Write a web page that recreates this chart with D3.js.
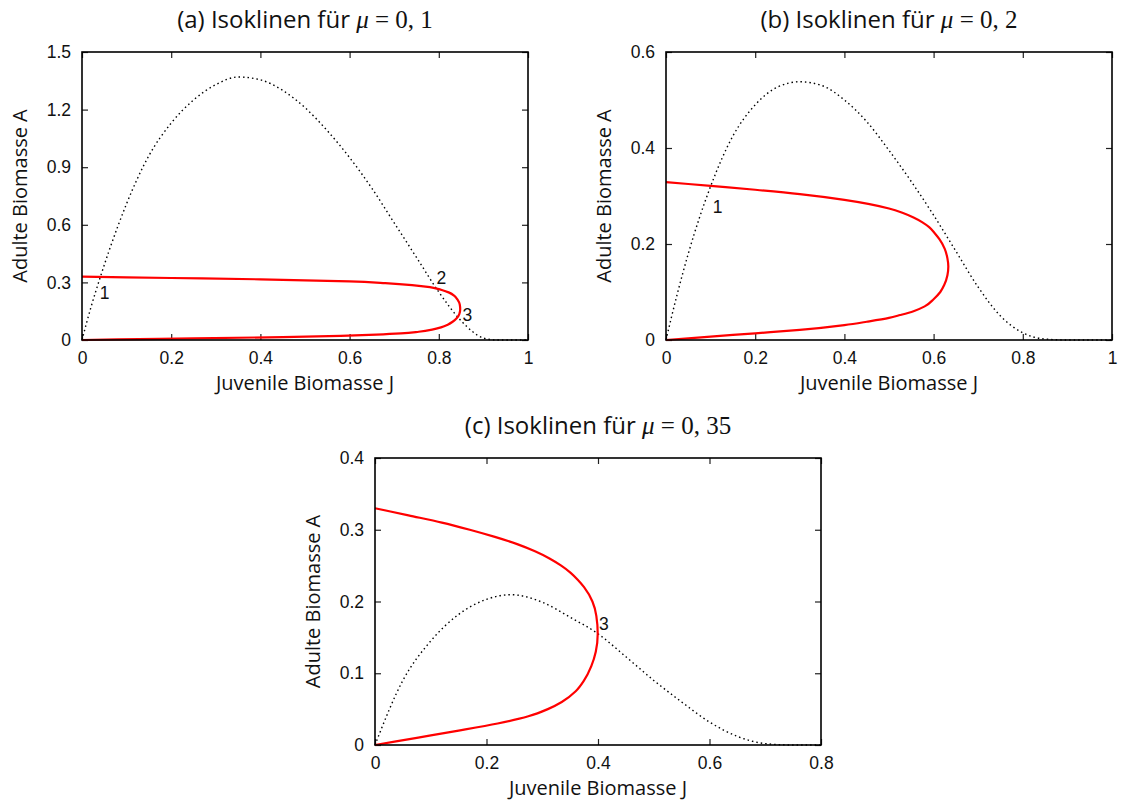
<!DOCTYPE html>
<html>
<head>
<meta charset="utf-8">
<script src="https://cdn.jsdelivr.net/npm/d3@7"></script>
<style>
  body { margin: 0; background: #fff; }
  svg { display: block; }
  .tick text { font-family: "Liberation Sans", Arial, sans-serif; font-size: 17.5px; fill: #111; }
  .axis-title { font-family: "Open Sans", "Noto Sans", sans-serif; font-size: 20px; fill: #111; }
  .title { font-family: "Open Sans", "Noto Sans", sans-serif; font-size: 24px; fill: #111; }
  .math { font-family: "Liberation Serif", "DejaVu Serif", serif; font-size: 25px; }
  .pt { font-family: "Liberation Sans", Arial, sans-serif; font-size: 17.5px; fill: #111; }
</style>
</head>
<body>
<svg id="chart" width="1121" height="802"></svg>
<script>
// ---- data ----
// red isocline is given as J along falling A (top branch -> tip -> bottom branch)

// panel (a), mu = 0,1
const jTicksA = [0, 0.2, 0.4, 0.6, 0.8, 1];
const aTicksA = [0, 0.3, 0.6, 0.9, 1.2, 1.5];
const redAA = [0.33, 0.323, 0.316, 0.305, 0.296, 0.286, 0.275, 0.262, 0.248, 0.23, 0.21, 0.185, 0.16, 0.135, 0.113, 0.095, 0.08, 0.066, 0.054, 0.043, 0.034, 0.028, 0.022, 0.015, 0.008, 0.003, 0];
const redJA = [0, 0.2, 0.4, 0.6, 0.68, 0.74, 0.78, 0.805, 0.822, 0.835, 0.842, 0.847, 0.848, 0.846, 0.84, 0.831, 0.82, 0.805, 0.785, 0.755, 0.715, 0.66, 0.58, 0.45, 0.25, 0.08, 0];
const dotJA = [0, 0.02, 0.04, 0.06, 0.08, 0.1, 0.15, 0.2, 0.25, 0.3, 0.35, 0.4, 0.45, 0.5, 0.55, 0.6, 0.65, 0.7, 0.75, 0.8, 0.85, 0.875, 0.9, 0.93, 1];
const dotAA = [0, 0.17, 0.32, 0.46, 0.59, 0.71, 0.96, 1.13, 1.25, 1.33, 1.37, 1.355, 1.3, 1.21, 1.09, 0.95, 0.79, 0.61, 0.43, 0.25, 0.1, 0.045, 0.01, 0, 0];
const ptLabelsA = ["1", "2", "3"];
const ptJA = [0.04, 0.795, 0.853];
const ptAA = [0.215, 0.29, 0.1];

// panel (b), mu = 0,2
const jTicksB = [0, 0.2, 0.4, 0.6, 0.8, 1];
const aTicksB = [0, 0.2, 0.4, 0.6];
const redAB = [0.329, 0.321, 0.313, 0.304, 0.292, 0.274, 0.265, 0.255, 0.245, 0.235, 0.222, 0.21, 0.19, 0.17, 0.153, 0.135, 0.115, 0.1, 0.085, 0.07, 0.06, 0.052, 0.046, 0.038, 0.031, 0.021, 0.014, 0.007, 0];
const redJB = [0, 0.1, 0.2, 0.3, 0.4, 0.5, 0.53, 0.555, 0.575, 0.59, 0.603, 0.613, 0.625, 0.631, 0.633, 0.631, 0.624, 0.615, 0.6, 0.58, 0.555, 0.525, 0.5, 0.45, 0.4, 0.3, 0.2, 0.1, 0];
const dotJB = [0, 0.025, 0.05, 0.1, 0.15, 0.2, 0.25, 0.3, 0.35, 0.4, 0.45, 0.5, 0.55, 0.6, 0.65, 0.7, 0.75, 0.8, 0.85, 0.9, 1];
const dotAB = [0, 0.095, 0.18, 0.32, 0.425, 0.49, 0.527, 0.538, 0.53, 0.5, 0.455, 0.395, 0.33, 0.26, 0.185, 0.11, 0.05, 0.015, 0.002, 0, 0];
const ptLabelsB = ["1"];
const ptJB = [0.105];
const ptAB = [0.265];

// panel (c), mu = 0,35
const jTicksC = [0, 0.2, 0.4, 0.6, 0.8];
const aTicksC = [0, 0.1, 0.2, 0.3, 0.4];
const redAC = [0.33, 0.32, 0.31, 0.3, 0.29, 0.28, 0.27, 0.26, 0.25, 0.24, 0.23, 0.22, 0.2, 0.18, 0.155, 0.13, 0.11, 0.09, 0.075, 0.06, 0.05, 0.04, 0.03, 0.02, 0.01, 0];
const redJC = [0, 0.06, 0.12, 0.17, 0.215, 0.255, 0.287, 0.313, 0.334, 0.351, 0.364, 0.375, 0.39, 0.397, 0.3995, 0.396, 0.388, 0.375, 0.36, 0.335, 0.31, 0.275, 0.22, 0.15, 0.075, 0];
const dotJC = [0, 0.05, 0.1, 0.15, 0.2, 0.244, 0.3, 0.35, 0.4, 0.45, 0.5, 0.55, 0.6, 0.65, 0.7, 0.75, 0.8];
const dotAC = [0, 0.09, 0.145, 0.182, 0.203, 0.2095, 0.199, 0.178, 0.155, 0.123, 0.09, 0.06, 0.032, 0.012, 0.002, 0, 0];
const ptLabelsC = ["3"];
const ptJC = [0.402];
const ptAC = [0.16];

const svg = d3.select("#chart");

function drawPanel(p) {
  const g = svg.append("g");
  const x = d3.scaleLinear().domain([0, p.jTicks[p.jTicks.length - 1]]).range([p.left, p.right]);
  const y = d3.scaleLinear().domain([0, p.aTicks[p.aTicks.length - 1]]).range([p.bottom, p.top]);
  const fmt = d => String(d);

  // axes, ticks pointing inward like gnuplot
  g.append("g").attr("transform", `translate(0,${p.bottom})`)
    .call(d3.axisBottom(x).tickValues(p.jTicks).tickFormat(fmt).tickSize(-6).tickPadding(12))
    .call(a => a.select(".domain").remove());
  g.append("g").attr("transform", `translate(0,${p.top})`)
    .call(d3.axisTop(x).tickValues(p.jTicks).tickFormat("").tickSize(-6))
    .call(a => a.select(".domain").remove());
  g.append("g").attr("transform", `translate(${p.left},0)`)
    .call(d3.axisLeft(y).tickValues(p.aTicks).tickFormat(fmt).tickSize(-6).tickPadding(11))
    .call(a => a.select(".domain").remove());
  g.append("g").attr("transform", `translate(${p.right},0)`)
    .call(d3.axisRight(y).tickValues(p.aTicks).tickFormat("").tickSize(-6))
    .call(a => a.select(".domain").remove());
  g.selectAll(".tick line").attr("stroke", "#222").attr("stroke-width", 1.2);

  // dotted isocline
  const dots = p.dotJ.map((j, i) => [j, p.dotA[i]]);
  g.append("path").datum(dots)
    .attr("fill", "none").attr("stroke", "#000").attr("stroke-width", 1.4)
    .attr("stroke-dasharray", "1.5,3")
    .attr("d", d3.line().x(d => x(d[0])).y(d => y(d[1])).curve(d3.curveMonotoneX));

  // red isocline, J as a function of A
  const red = p.redA.map((a, i) => [p.redJ[i], a]);
  g.append("path").datum(red)
    .attr("fill", "none").attr("stroke", "#ff0000").attr("stroke-width", 2.2)
    .attr("d", d3.line().x(d => x(d[0])).y(d => y(d[1])).curve(d3.curveMonotoneY));

  // frame
  g.append("rect").attr("x", p.left).attr("y", p.top)
    .attr("width", p.right - p.left).attr("height", p.bottom - p.top)
    .attr("fill", "none").attr("stroke", "#000").attr("stroke-width", 1.6);

  // equilibrium labels
  g.selectAll(".pt").data(p.ptLabels).join("text").attr("class", "pt")
    .attr("x", (d, i) => x(p.ptJ[i])).attr("y", (d, i) => y(p.ptA[i]))
    .text(d => d);

  // axis titles
  const cx = (p.left + p.right) / 2, cy = (p.top + p.bottom) / 2;
  g.append("text").attr("class", "axis-title").attr("text-anchor", "middle")
    .attr("x", cx).attr("y", p.bottom + 50).text("Juvenile Biomasse J");
  g.append("text").attr("class", "axis-title").attr("text-anchor", "middle")
    .attr("transform", `translate(${p.left - 55},${cy}) rotate(-90)`).text("Adulte Biomasse A");

  // panel title
  const t = g.append("text").attr("class", "title").attr("text-anchor", "middle")
    .attr("x", cx).attr("y", p.top - 24);
  t.append("tspan").text(p.label + " Isoklinen für ");
  t.append("tspan").attr("class", "math").attr("font-style", "italic").text("μ");
  t.append("tspan").attr("class", "math").text(" = " + p.mu);
}

drawPanel({ label: "(a)", mu: "0, 1", left: 82, right: 528, top: 52, bottom: 340,
  jTicks: jTicksA, aTicks: aTicksA, redJ: redJA, redA: redAA, dotJ: dotJA, dotA: dotAA,
  ptLabels: ptLabelsA, ptJ: ptJA, ptA: ptAA });
drawPanel({ label: "(b)", mu: "0, 2", left: 666, right: 1112, top: 52, bottom: 340,
  jTicks: jTicksB, aTicks: aTicksB, redJ: redJB, redA: redAB, dotJ: dotJB, dotA: dotAB,
  ptLabels: ptLabelsB, ptJ: ptJB, ptA: ptAB });
drawPanel({ label: "(c)", mu: "0, 35", left: 375, right: 821, top: 458, bottom: 745,
  jTicks: jTicksC, aTicks: aTicksC, redJ: redJC, redA: redAC, dotJ: dotJC, dotA: dotAC,
  ptLabels: ptLabelsC, ptJ: ptJC, ptA: ptAC });
</script>
</body>
</html>
